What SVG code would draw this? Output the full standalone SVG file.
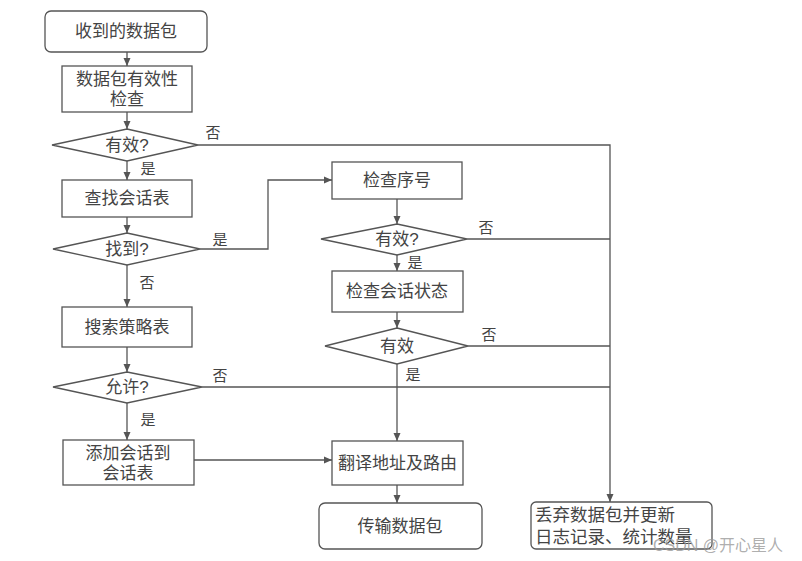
<svg xmlns="http://www.w3.org/2000/svg" width="802" height="561" viewBox="0 0 802 561">
<defs>
<marker id="ah" markerWidth="10" markerHeight="10" refX="9" refY="5" orient="auto" markerUnits="userSpaceOnUse">
<path d="M1,1.5 L9,5 L1,8.5 Z" fill="#555"/>
</marker>
<style>
.box{fill:#fff;stroke:#555;stroke-width:1.3}
.t{font-family:"Liberation Sans","Noto Sans CJK SC",sans-serif;font-size:17px;fill:#444;text-anchor:middle;dominant-baseline:central}
.t2{font-family:"Liberation Sans","Noto Sans CJK SC",sans-serif;font-size:17px;fill:#444;text-anchor:middle;dominant-baseline:central}
.tl{font-family:"Liberation Sans","Noto Sans CJK SC",sans-serif;font-size:17.5px;fill:#444;dominant-baseline:central}
.lb{font-family:"Liberation Sans","Noto Sans CJK SC",sans-serif;font-size:15px;fill:#444;text-anchor:middle;dominant-baseline:central}
.c{fill:none;stroke:#555;stroke-width:1.3}
.wm{font-family:"Liberation Sans","Noto Sans CJK SC",sans-serif;font-size:16px;fill:#999;fill-opacity:0.8;dominant-baseline:central}
</style>
</defs>
<rect width="802" height="561" fill="#fff"/>
<g id="connectors">
<path class="c" d="M127,52 V66" marker-end="url(#ah)"/>
<path class="c" d="M127,112 V129" marker-end="url(#ah)"/>
<path class="c" d="M127,161 V180" marker-end="url(#ah)"/>
<path class="c" d="M127,217 V233" marker-end="url(#ah)"/>
<path class="c" d="M127,265 V307" marker-end="url(#ah)"/>
<path class="c" d="M127,347 V372" marker-end="url(#ah)"/>
<path class="c" d="M127,403 V440" marker-end="url(#ah)"/>
<path class="c" d="M198,145 H610 V502" marker-end="url(#ah)"/>
<path class="c" d="M200,249 H268 V180 H332" marker-end="url(#ah)"/>
<path class="c" d="M397,199 V224" marker-end="url(#ah)"/>
<path class="c" d="M467,239 H610"/>
<path class="c" d="M397,255 V271" marker-end="url(#ah)"/>
<path class="c" d="M397,312 V328" marker-end="url(#ah)"/>
<path class="c" d="M468,346 H610"/>
<path class="c" d="M397,364 V441" marker-end="url(#ah)"/>
<path class="c" d="M202,387 H610"/>
<path class="c" d="M194,460 H332" marker-end="url(#ah)"/>
<path class="c" d="M397,485 V503" marker-end="url(#ah)"/>
<text class="lb" x="213" y="132">否</text>
<text class="lb" x="148" y="168">是</text>
<text class="lb" x="220" y="239">是</text>
<text class="lb" x="147" y="282">否</text>
<text class="lb" x="220" y="375">否</text>
<text class="lb" x="148" y="419">是</text>
<text class="lb" x="486" y="227">否</text>
<text class="lb" x="415" y="262">是</text>
<text class="lb" x="489" y="334">否</text>
<text class="lb" x="413" y="374">是</text>
</g>
<g id="n_start"><rect class="box" x="45" y="11" width="162" height="41" rx="6"/><text class="t" x="126" y="31.5">收到的数据包</text></g>
<g id="n_check"><rect class="box" x="62" y="66" width="130" height="46"/><text class="t2" x="127" y="79">数据包有效性</text><text class="t2" x="127" y="99">检查</text></g>
<g id="d_valid1"><polygon class="box" points="127,129 198,145 127,161 52,145"/><text class="t" x="127" y="145">有效?</text></g>
<g id="n_lookup"><rect class="box" x="62" y="180" width="130" height="37"/><text class="t" x="127" y="198.5">查找会话表</text></g>
<g id="d_found"><polygon class="box" points="127,233 200,249 127,265 53,249"/><text class="t" x="127" y="249">找到?</text></g>
<g id="n_policy"><rect class="box" x="62" y="307" width="130" height="40"/><text class="t" x="127" y="327">搜索策略表</text></g>
<g id="d_allow"><polygon class="box" points="127,372 202,387 127,403 53,387"/><text class="t" x="127" y="387">允许?</text></g>
<g id="n_add"><rect class="box" x="63" y="440" width="131" height="45"/><text class="t2" x="128" y="453">添加会话到</text><text class="t2" x="128" y="473">会话表</text></g>
<g id="n_seq"><rect class="box" x="332" y="162" width="130" height="37"/><text class="t" x="397" y="180.5">检查序号</text></g>
<g id="d_valid2"><polygon class="box" points="397,224 467,239 397,255 321,239"/><text class="t" x="397" y="239">有效?</text></g>
<g id="n_state"><rect class="box" x="332" y="271" width="131" height="41"/><text class="t" x="397" y="291.5">检查会话状态</text></g>
<g id="d_valid3"><polygon class="box" points="397,328 468,346 397,364 325,346"/><text class="t" x="397" y="346">有效</text></g>
<g id="n_route"><rect class="box" x="332" y="441" width="131" height="44"/><text class="t" x="397.5" y="463">翻译地址及路由</text></g>
<g id="n_send"><rect class="box" x="319" y="503" width="163" height="46" rx="6"/><text class="t" x="400" y="526">传输数据包</text></g>
<g id="n_drop"><rect class="box" x="531" y="502" width="181" height="47" rx="5"/><text class="tl" x="535" y="515">丢弃数据包并更新</text><text class="tl" x="535" y="537">日志记录、统计数量</text></g>
<text class="wm" x="653" y="545">CSDN @开心星人</text>
</svg>
